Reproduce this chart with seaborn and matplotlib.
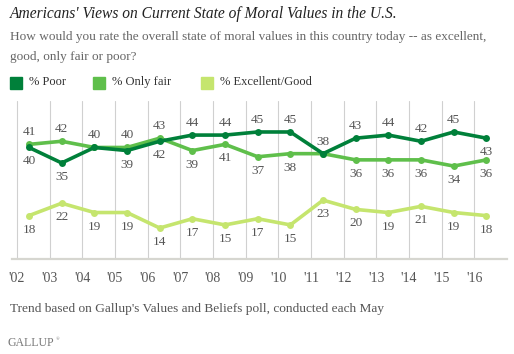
import pandas as pd
import matplotlib
matplotlib.use("Agg")
import matplotlib.pyplot as plt
import seaborn as sns

# data (polls each May)
years = list(range(2002, 2017))
poor = [40, 35, 40, 39, 42, 44, 44, 45, 45, 38, 43, 44, 42, 45, 43]
only_fair = [41, 42, 40, 40, 43, 39, 41, 37, 38, 38, 36, 36, 36, 34, 36]
excellent_good = [18, 22, 19, 19, 14, 17, 15, 17, 15, 23, 20, 19, 21, 19, 18]
tick_labels = ["'02", "'03", "'04", "'05", "'06", "'07", "'08", "'09",
               "'10", "'11", "'12", "'13", "'14", "'15", "'16"]
series_names = ["% Poor", "% Only fair", "% Excellent/Good"]

# where each value label sits: 1 above, -1 below, 0 hidden
poor_pos = [-1, -1, 1, -1, -1, 1, 1, 1, 1, 1, 1, 1, 1, 1, -1]
fair_pos = [1, 1, 0, 1, 1, -1, -1, -1, -1, 0, -1, -1, -1, -1, -1]
good_pos = [-1] * 15

colors = ["#00803a", "#5fbf4b", "#c5e56e"]
MAY = 0.37

df = pd.DataFrame({
    "year": years * 3,
    "value": poor + only_fair + excellent_good,
    "series": [series_names[0]] * 15 + [series_names[1]] * 15 + [series_names[2]] * 15,
})
df["x"] = df["year"] + MAY

sns.set_theme(style="white")
plt.rcParams["font.family"] = ["Liberation Serif", "DejaVu Serif"]

fig = plt.figure(figsize=(5.14, 3.54), dpi=100)
ax = fig.add_axes([12 / 514, 1 - 259 / 354, 495 / 514, 158 / 354])

sns.lineplot(data=df, x="x", y="value", hue="series", hue_order=series_names[::-1],
             palette=dict(zip(series_names, colors)), marker="o", markersize=5,
             markeredgewidth=0, linewidth=2.6, ax=ax, legend=False)

text_gray = "#555555"
for vals, pos in [(poor, poor_pos), (only_fair, fair_pos), (excellent_good, good_pos)]:
    for yr, v, p in zip(years, vals, pos):
        if p == 0:
            continue
        off = 12 if p > 0 else -14
        ax.annotate(str(v), (yr + MAY, v), xytext=(0, off), textcoords="offset pixels",
                    ha="center", va="center", fontsize=9.5, color=text_gray)

ax.set_xlim(2001.85, 2017.0)
ax.set_ylim(4, 55)
ax.set_xticks(years)
ax.set_xticklabels(tick_labels, fontsize=10, color=text_gray)
ax.set_yticks([])
ax.set_xlabel("")
ax.set_ylabel("")
ax.tick_params(axis="x", length=0, pad=9)
ax.grid(axis="x", color="#d0d0d0", linewidth=0.8)
for side in ["top", "left", "right"]:
    ax.spines[side].set_visible(False)
ax.spines["bottom"].set_color("#d6d6d0")
ax.spines["bottom"].set_linewidth(1.6)

# header text
fig.text(10 / 514, 1 - 14 / 354, "Americans' Views on Current State of Moral Values in the U.S.",
         fontsize=11.2, style="italic", color="#222222", va="center")
fig.text(10 / 514, 1 - 37 / 354,
         "How would you rate the overall state of moral values in this country today -- as excellent,",
         fontsize=9.5, color="#666666", va="center")
fig.text(10 / 514, 1 - 57 / 354, "good, only fair or poor?", fontsize=9.5, color="#666666", va="center")

# legend squares
leg_x = [10, 93, 201]
for lx, name, c in zip(leg_x, series_names, colors):
    fig.patches.append(plt.Rectangle((lx / 514, 1 - 89 / 354), 12 / 514, 12 / 354,
                                     transform=fig.transFigure, color=c))
    fig.text((lx + 19) / 514, 1 - 82 / 354, name, fontsize=9, color="#333333", va="center")

fig.text(10 / 514, 1 - 309 / 354, "Trend based on Gallup's Values and Beliefs poll, conducted each May",
         fontsize=9.6, color="#555555", va="center")
fig.text(7 / 514, 1 - 343 / 354, "GALLUP", fontsize=8.5, color="#777777", va="center")
fig.text(56 / 514, 1 - 339 / 354, "\u00ae", fontsize=3.5, color="#777777", va="center")

fig.savefig("out.png", dpi=100)
